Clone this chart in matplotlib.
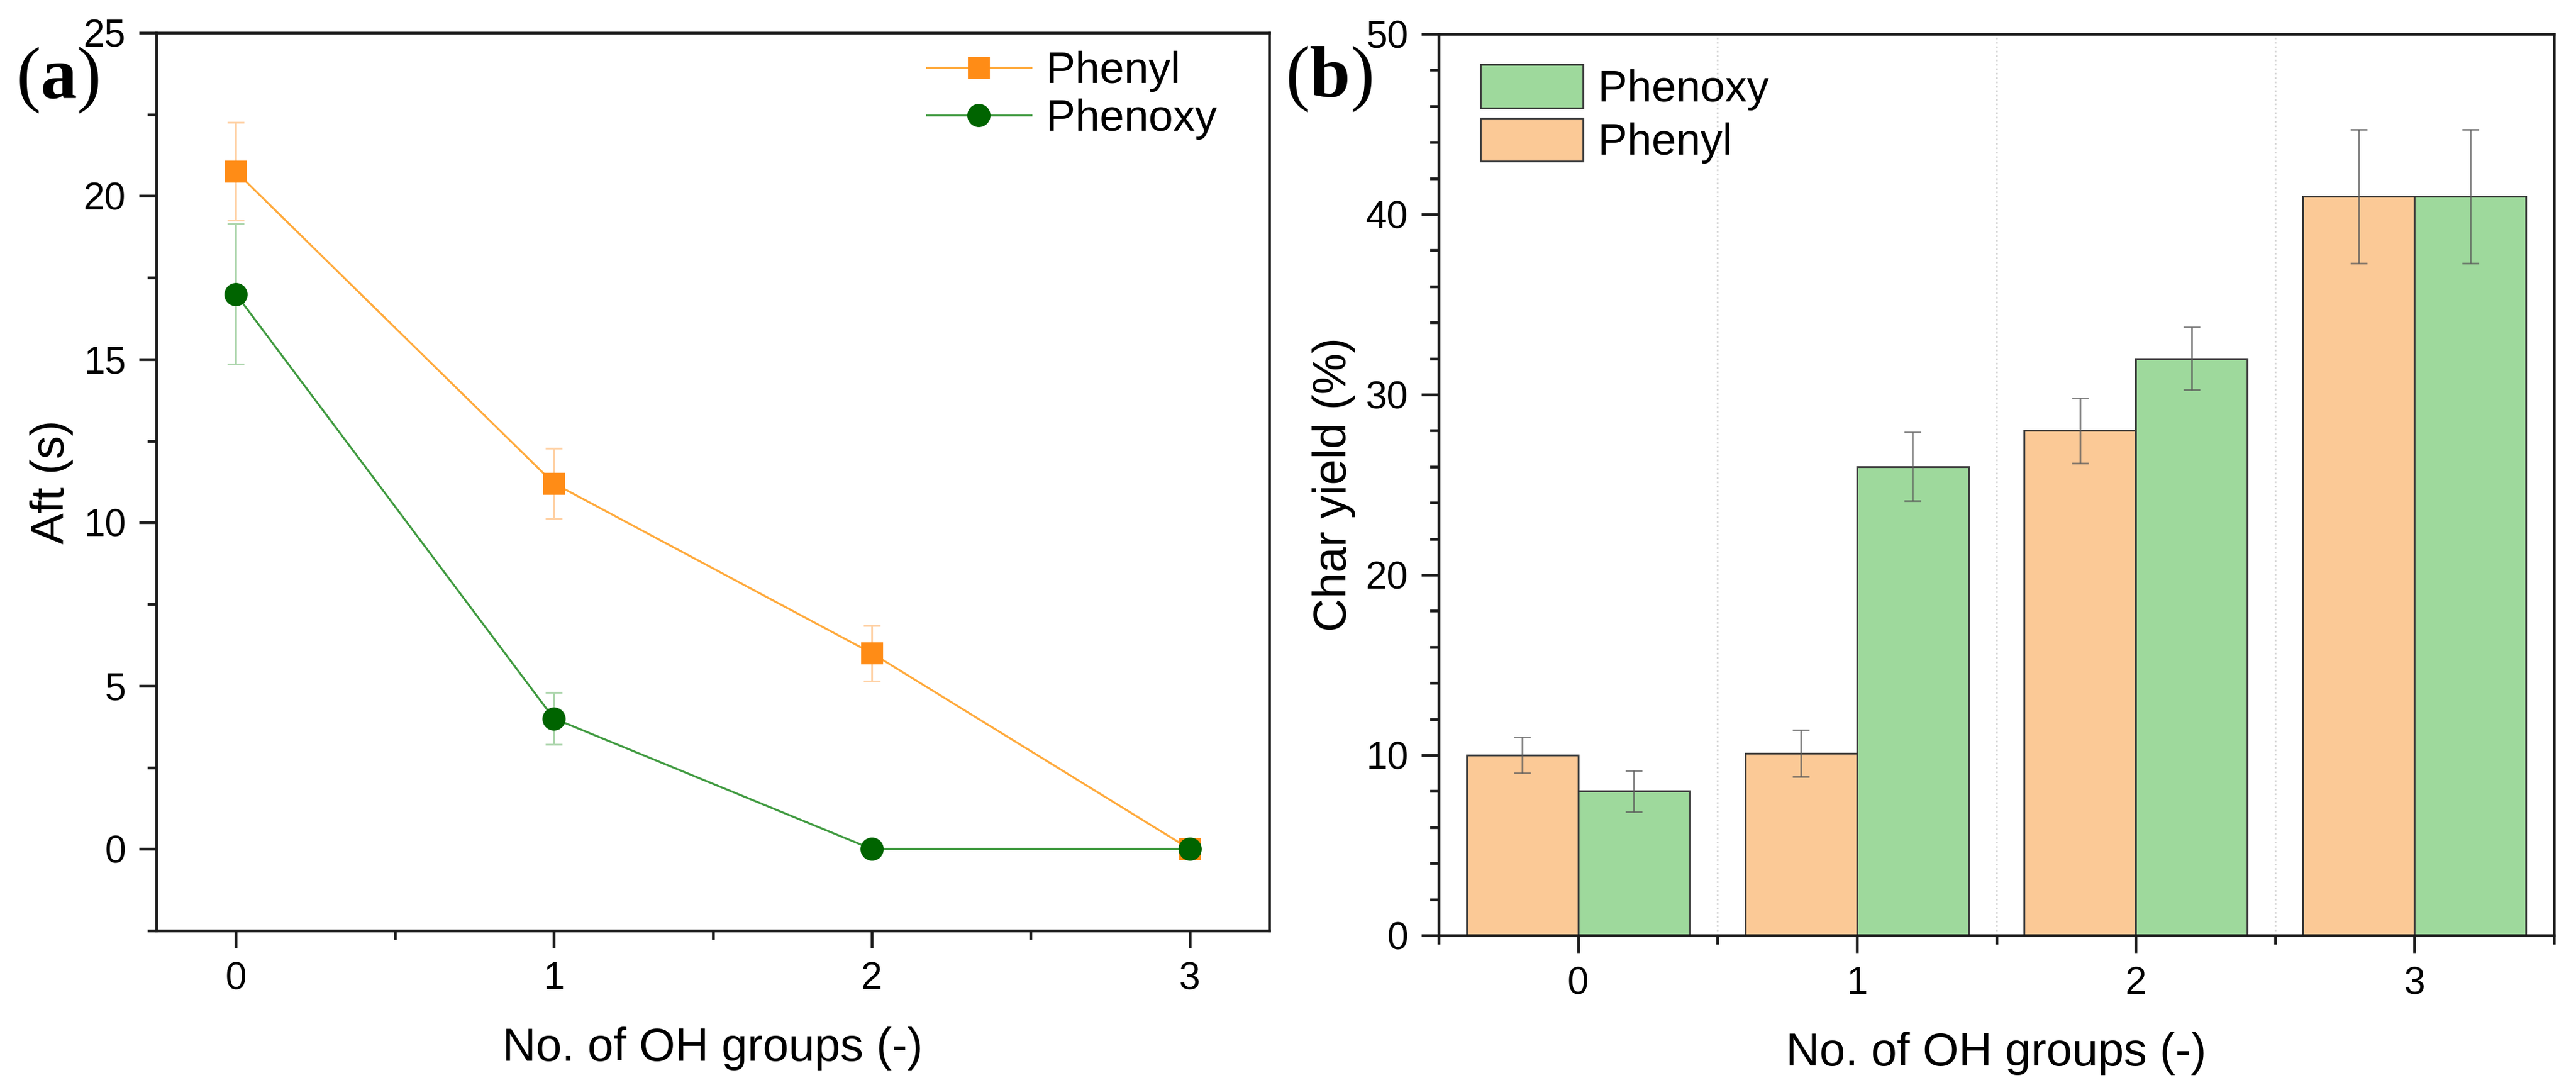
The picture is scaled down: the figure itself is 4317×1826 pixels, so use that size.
import matplotlib
matplotlib.use("Agg")
import matplotlib.pyplot as plt
from matplotlib.ticker import MultipleLocator

plt.rcParams['font.family'] = ['Liberation Sans', 'DejaVu Sans']
plt.rcParams['mathtext.fontset'] = 'custom'
plt.rcParams['mathtext.rm'] = 'Liberation Serif'
plt.rcParams['mathtext.bf'] = 'Liberation Serif:bold'

# shared x categories
oh_groups = [0, 1, 2, 3]

# panel (a): afterflame time (s)
aft_phenyl = [20.75, 11.2, 6.0, 0.0]
aft_phenyl_err = [1.5, 1.08, 0.85, 0.0]
aft_phenoxy = [17.0, 4.0, 0.0, 0.0]
aft_phenoxy_err = [2.15, 0.8, 0.0, 0.0]

# panel (b): char yield (%)
char_phenyl = [10.0, 10.1, 28.0, 41.0]
char_phenyl_err = [1.0, 1.3, 1.8, 3.7]
char_phenoxy = [8.0, 26.0, 32.0, 41.0]
char_phenoxy_err = [1.15, 1.9, 1.75, 3.7]

W, H = 4317, 1826
DPI = 200
fig = plt.figure(figsize=(W / DPI, H / DPI), dpi=DPI)


def px_axes(left, top, right, bottom):
    # pixel box -> figure fraction
    return fig.add_axes([left / W, 1 - bottom / H, (right - left) / W, (bottom - top) / H])


def style_axes(ax):
    for s in ax.spines.values():
        s.set_linewidth(1.65)
        s.set_color('#1a1a1a')
    ax.tick_params(which='both', direction='out', width=1.65, color='#1a1a1a',
                   labelsize=23, pad=8, top=False, right=False)
    ax.tick_params(which='major', length=10.4)
    ax.tick_params(which='minor', length=5.4)


# ---------------- panel (a) ----------------
ax1 = px_axes(262, 55, 2127, 1559)
ax1.errorbar(oh_groups, aft_phenyl, yerr=aft_phenyl_err, fmt='none',
             ecolor='#FFD2A6', elinewidth=1.1, capsize=5, capthick=1.1, zorder=2)
ax1.errorbar(oh_groups, aft_phenoxy, yerr=aft_phenoxy_err, fmt='none',
             ecolor='#ADD6AD', elinewidth=1.1, capsize=5, capthick=1.1, zorder=2)
ax1.plot(oh_groups, aft_phenyl, color='#FFAA3C', lw=1.2, marker='s', ms=12,
         mfc='#FF8C16', mec='#FF8C16', label='Phenyl', zorder=3)
ax1.plot(oh_groups, aft_phenoxy, color='#3F9A3F', lw=1.2, marker='o', ms=13,
         mfc='#006400', mec='#006400', label='Phenoxy', zorder=4)
ax1.set_xlim(-0.25, 3.25)
ax1.set_ylim(-2.5, 25)
ax1.set_xticks(oh_groups)
ax1.xaxis.set_minor_locator(MultipleLocator(0.5))
ax1.yaxis.set_major_locator(MultipleLocator(5))
ax1.yaxis.set_minor_locator(MultipleLocator(2.5))
style_axes(ax1)
ax1.set_xlabel('No. of OH groups (-)', fontsize=28, labelpad=18)
ax1.set_ylabel('Aft (s)', fontsize=28, labelpad=6)
ax1.legend(loc='upper left', bbox_to_anchor=(0.692, 0.98), frameon=False,
           fontsize=26.5, borderpad=0, borderaxespad=0, numpoints=1,
           handlelength=2.38, handletextpad=0.34, labelspacing=0.15)

# ---------------- panel (b) ----------------
ax2 = px_axes(2411, 57, 4280, 1567)
bar_w = 0.4
x_phenyl = [x - bar_w / 2 for x in oh_groups]
x_phenoxy = [x + bar_w / 2 for x in oh_groups]
err_kw = dict(ecolor='#5a5a5a', elinewidth=1.0, capsize=5.2, capthick=1.0, alpha=0.75)
ax2.bar(x_phenyl, char_phenyl, width=bar_w, color='#FBC996', edgecolor='#3a3a3a',
        linewidth=1.1, yerr=char_phenyl_err, error_kw=err_kw, label='Phenyl', zorder=2)
ax2.bar(x_phenoxy, char_phenoxy, width=bar_w, color='#9ED99C', edgecolor='#3a3a3a',
        linewidth=1.1, yerr=char_phenoxy_err, error_kw=err_kw, label='Phenoxy', zorder=2)
ax2.set_xlim(-0.5, 3.5)
ax2.set_ylim(0, 50)
ax2.set_xticks(oh_groups)
ax2.xaxis.set_minor_locator(MultipleLocator(0.5))
ax2.yaxis.set_major_locator(MultipleLocator(10))
ax2.yaxis.set_minor_locator(MultipleLocator(2))
ax2.grid(which='minor', axis='x', color='#d4d4d4', linestyle=':', linewidth=1.0, zorder=0)
ax2.set_axisbelow(True)
style_axes(ax2)
ax2.set_xlabel('No. of OH groups (-)', fontsize=28, labelpad=18)
ax2.set_ylabel('Char yield (%)', fontsize=28, labelpad=6)
handles, labels = ax2.get_legend_handles_labels()
ax2.legend(handles[::-1], labels[::-1], loc='upper left', bbox_to_anchor=(0.0375, 0.966),
           frameon=False, fontsize=26.5, borderpad=0, borderaxespad=0,
           handlelength=2.34, handleheight=1.14, handletextpad=0.34, labelspacing=0.18)

# panel letters
fig.text(27 / W, 1 - 134 / H, r'$(\mathbf{a})$', fontsize=44, ha='left', va='center')
fig.text(2154 / W, 1 - 132 / H, r'$(\mathbf{b})$', fontsize=44, ha='left', va='center')

fig.savefig('out.png', dpi=DPI)
